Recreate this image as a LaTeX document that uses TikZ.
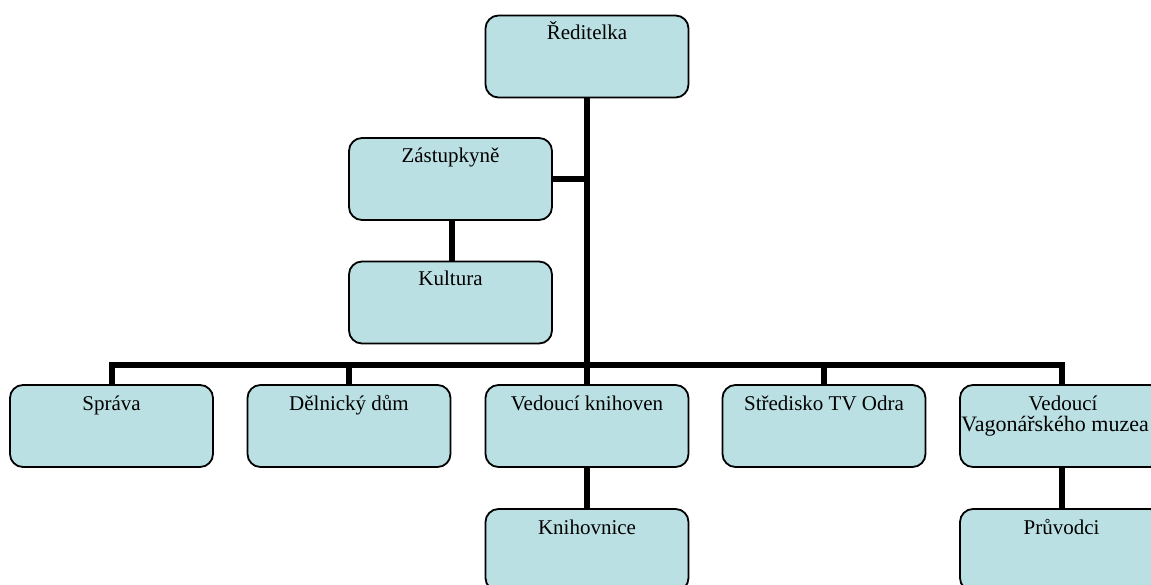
\documentclass[tikz,border=0pt]{standalone}
\usepackage{fontspec}
\setmainfont{Liberation Serif}
\usetikzlibrary{backgrounds}
\definecolor{boxfill}{RGB}{187,224,227}
\tikzset{
  orgbox/.style={draw=black, line width=1.8pt, fill=boxfill, rounded corners=13pt,
    minimum width=203pt, minimum height=82pt, inner sep=0pt},
  boxtext/.style={anchor=base, inner sep=0pt, align=center, font=\fontsize{21}{22}\selectfont},
  conn/.style={line width=6pt, line join=miter}
}
\begin{document}
\begin{tikzpicture}[x=1pt,y=-1pt]
\useasboundingbox (0,0) rectangle (1151,585);
% boxes
\node[orgbox] (red) at (587,56.5) {};
\node[orgbox] (zas) at (450.5,179) {};
\node[orgbox] (kul) at (450.5,302.5) {};
\node[orgbox] (spr) at (111.5,426) {};
\node[orgbox] (del) at (349,426) {};
\node[orgbox] (ved) at (587,426) {};
\node[orgbox] (str) at (824,426) {};
\node[orgbox] (vag) at (1061.5,426) {};
\node[orgbox] (kni) at (587,550) {};
\node[orgbox] (pru) at (1061.5,550) {};
% texts
\node[boxtext] at ([yshift=-25pt]red.north) {Ředitelka};
\node[boxtext] at ([yshift=-25pt]zas.north) {Zástupkyně};
\node[boxtext] at ([yshift=-25pt]kul.north) {Kultura};
\node[boxtext] at ([yshift=-26pt]spr.north) {Správa};
\node[boxtext] at ([yshift=-26pt]del.north) {Dělnický dům};
\node[boxtext] at ([yshift=-26pt]ved.north) {Vedoucí knihoven};
\node[boxtext] at ([yshift=-26pt]str.north) {Středisko TV Odra};
\node[boxtext] at ([xshift=1.5pt,yshift=-26pt]vag.north) {Vedoucí};
\node[boxtext, anchor=base west, font=\fontsize{22}{22}\selectfont] at ([xshift=2pt,yshift=-47pt]vag.north west) {Vagonářského muzea};
\node[boxtext] at ([yshift=-26pt]kni.north) {Knihovnice};
\node[boxtext] at ([yshift=-26pt]pru.north) {Průvodci};
% connectors
\coordinate (bus) at (587,365);
\begin{scope}[on background layer]
\draw[conn] (red.center) -- (bus);
\draw[conn] (zas.center) -- (zas.center -| bus);
\draw[conn] ([xshift=1.5pt]zas.center) -- ([xshift=1.5pt]kul.center);
\draw[conn] (spr.center) |- (bus);
\draw[conn] (vag.center) |- (bus);
\draw[conn] (del.center) -- (del.center |- bus);
\draw[conn] (ved.center) -- (bus);
\draw[conn] (str.center) -- (str.center |- bus);
\draw[conn] (ved.center) -- (kni.center);
\draw[conn] (vag.center) -- (pru.center);
\end{scope}
\end{tikzpicture}
\end{document}
